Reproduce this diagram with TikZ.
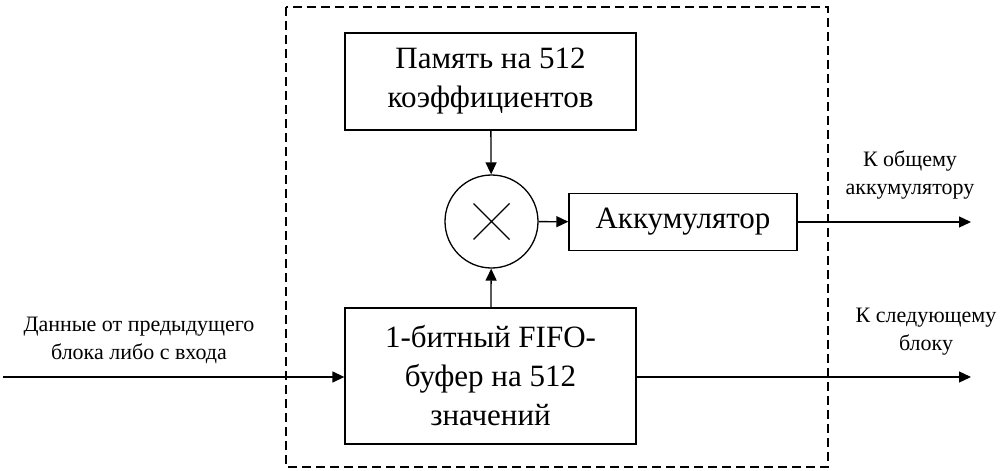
\documentclass[tikz,border=0pt]{standalone}
\usepackage{fontspec}
\setmainfont{Liberation Serif}
\usetikzlibrary{arrows.meta}
\begin{document}
\begin{tikzpicture}[x=1pt,y=-1pt,
  box/.style={draw,line width=1.3pt,minimum width=291pt,align=center,inner sep=0pt,font=\fontsize{31}{39}\selectfont},
  lbl/.style={align=center,inner sep=0pt,font=\fontsize{22}{28}\selectfont},
  arr/.style={line width=1.3pt,-{Triangle[length=12pt,width=11pt]}}]
\useasboundingbox (0,0) rectangle (1002,471);
\draw[line width=1.3pt,dash pattern=on 9pt off 5pt] (286,7) rectangle (828,467);
\node[box,minimum height=97pt] (mem) at (490.5,81.5) {Память на 512\\коэффициентов};
\node[box,minimum height=136pt] (fifo) at (490.5,376) {1-битный FIFO-\\буфер на 512\\значений};
\node[draw,circle,line width=1.3pt,minimum size=93pt,inner sep=0pt] (mul) at (491.5,221.5) {};
\draw[line width=1.3pt] ([shift={(-18,-18)}]mul.center) -- ([shift={(18,18)}]mul.center)
  ([shift={(-18,18)}]mul.center) -- ([shift={(18,-18)}]mul.center);
\node[box,minimum width=228pt,minimum height=57pt] (acc) at (683,222) {Аккумулятор};
\coordinate (in) at (3,377);
\coordinate (outA) at (971,222);
\coordinate (outB) at (971,377);
\draw[arr] (mem) -- (mul);
\draw[arr] (fifo) -- (mul);
\draw[arr] (mul) -- (acc);
\draw[arr] (in) -- (in -| fifo.west);
\draw[arr] (acc) -- (outA);
\draw[arr] (fifo.east |- outB) -- (outB);
\node[lbl] (l1) at (139,340) {Данные от предыдущего\\блока либо с входа};
\node[lbl] (l2) at (910,175) {К общему\\аккумулятору};
\node[lbl] (l3) at (926,332) {К следующему\\блоку};
\end{tikzpicture}
\end{document}
